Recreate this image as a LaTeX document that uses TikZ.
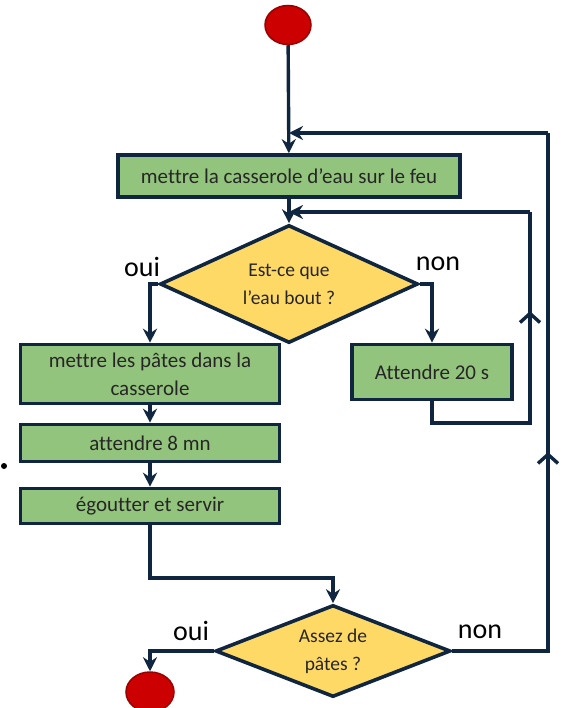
\documentclass[tikz,border=0pt]{standalone}
\usepackage{fontspec}
\setmainfont{Carlito}[Ligatures=NoCommon]
\usetikzlibrary{shapes.geometric,arrows.meta,decorations.markings}
\definecolor{navy}{HTML}{0F2540}
\definecolor{boxgreen}{HTML}{93C47D}
\definecolor{decyellow}{HTML}{FFD966}
\definecolor{startred}{HTML}{CC0000}
\definecolor{darkred}{HTML}{990000}
\definecolor{txt}{HTML}{262626}
\tikzset{
  stepbox/.style={draw=navy, line width=3.6pt, fill=boxgreen, rectangle, inner sep=0pt,
     font=\fontsize{21}{24}\selectfont, text=txt, align=center},
  decision/.style={draw=navy, line width=3.6pt, fill=decyellow, diamond, inner sep=0pt,
     font=\fontsize{19.5}{28}\selectfont, text=txt, align=center},
  terminal/.style={draw=darkred, line width=1.5pt, fill=startred, ellipse, inner sep=0pt,
     minimum width=46pt, minimum height=39pt},
  conn/.style={draw=navy, line width=3.4pt, -{Stealth[length=14pt,width=14pt]}},
  plain/.style={draw=navy, line width=3.4pt},
  midup/.style={postaction={decorate}, decoration={markings,
     mark=at position #1 with {\arrow{Straight Barb[length=9pt,width=20pt,line width=3.4pt]}}}},
  lbl/.style={font=\fontsize{28}{30}\selectfont, text=black, inner sep=0pt}
}
\begin{document}
\begin{tikzpicture}[x=1pt,y=-1pt]
\useasboundingbox (0,0) rectangle (562,708);
\node[terminal] (start) at (288,25) {};
\node[stepbox, minimum width=342pt, minimum height=42pt] (b1) at (289,176) {mettre la casserole d’eau sur le feu};
\node[decision, aspect=2.19, minimum width=258pt, minimum height=118pt] (d1) at (289,284) {Est-ce que\\l’eau bout ?};
\node[stepbox, minimum width=259pt, minimum height=59pt, font=\fontsize{21}{28}\selectfont] (b2) at (150,374) {mettre les pâtes dans la\\casserole};
\node[stepbox, minimum width=160pt, minimum height=55pt] (b5) at (432,372) {Attendre 20 s};
\node[stepbox, minimum width=259pt, minimum height=37pt] (b3) at (150,443) {attendre 8 mn};
\node[stepbox, minimum width=259pt, minimum height=35pt] (b4) at (150,506) {égoutter et servir};
\node[decision, aspect=2.55, minimum width=235pt, minimum height=92pt] (d2) at (333,651) {Assez de\\pâtes ?};
\node[terminal, minimum width=48pt, minimum height=40pt] (end) at (150,692) {};
\node[lbl] (oui1) at (142,267) {oui};
\node[lbl] (non1) at (438,264) {non};
\node[lbl] (oui2) at (191,631) {oui};
\node[lbl] (non2) at (480,632) {non};
\fill[black] (4,466) circle (3pt);

\coordinate (r1) at (548,133);
\coordinate (r2) at (530,212);
\coordinate (j1) at (b1.north |- r1);
\coordinate (j2) at (b1.south |- r2);
\coordinate (k2) at (432,423);
\coordinate (k4) at (150,578);

\draw[conn] (start) -- (b1);
\draw[conn] (b1) -- (d1.north);
\draw[conn] (d1.west) -| (b2.north);
\draw[conn] (d1.east) -| (b5.north);
\draw[conn] (b2) -- (b3);
\draw[conn] (b3) -- (b4);
\draw[conn] (b4.south) -- (k4) -| (d2.north);
\draw[conn] (d2.west) -| (end.north);
\draw[plain, midup=0.70] (b5.south) -- (k2) -| (r2);
\draw[conn] (r2) -- (j2);
\draw[plain, midup=0.48] (d2.east) -| (r1);
\draw[conn] (r1) -- (j1);
\end{tikzpicture}
\end{document}
